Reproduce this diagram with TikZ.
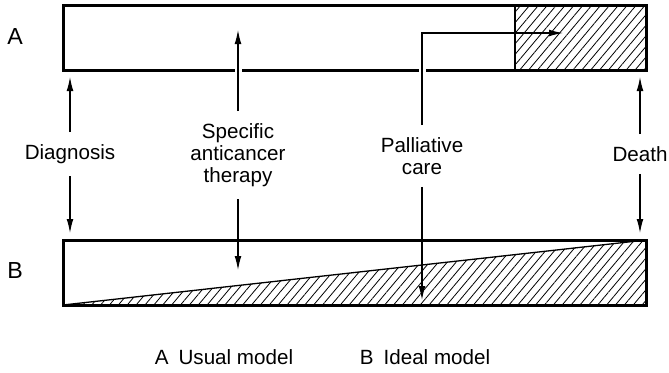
\documentclass[tikz,border=0pt]{standalone}
\usepackage{fontspec}
\setmainfont{Liberation Sans}
\usepackage{tikz}
\usetikzlibrary{arrows.meta,patterns.meta}
\definecolor{CareInk}{HTML}{000000}
\tikzset{
  figlabel/.style={font=\fontsize{10.3}{11}\selectfont, text=CareInk, align=center, inner sep=6pt},
  rowlabel/.style={figlabel, font=\fontsize{11.6}{12}\selectfont},
  modelbox/.style={draw=CareInk, line width=1.5pt},
  hatchfill/.style={pattern={Lines[angle=50, distance=3.4pt, line width=0.4pt]}, pattern color=CareInk},
  edgeline/.style={draw=CareInk, line width=0.65pt},
  figarrow/.style={-{Latex[length=7pt, width=3.4pt]}, line width=0.6pt, draw=CareInk},
  edgegap/.style={fill=white}
}
\begin{document}
\begin{tikzpicture}[x=0.5pt, y=-0.5pt, every node/.style={figlabel}]
\useasboundingbox (0,0) rectangle (669,372);
% model A
\fill[hatchfill] (515,5) rectangle (646,70);
\draw[edgeline] (515,5) -- (515,70);
\draw[modelbox] (63,5) rectangle (646,70);
% model B
\fill[hatchfill] (63,305) -- (646,240) -- (646,305) -- cycle;
\draw[edgeline] (63,305) -- (646,240);
\draw[modelbox] (63,240) rectangle (646,305);
% breaks in the lower edge of A
\fill[edgegap] (235,66) rectangle (241.5,74);
\fill[edgegap] (419,66) rectangle (425.5,74);
\node[rowlabel] (rowA) at (15,37) {A};
\node[rowlabel] (rowB) at (15,271) {B};
\node (diag) at (70,154) {Diagnosis};
\node (spec) at (238,155) {Specific\\anticancer\\therapy};
\node (pall) at (422,156) {Palliative\\care};
\node (death) at (640,154) {Death};
\coordinate (aBot) at (0,77);
\coordinate (aIn) at (0,30);
\coordinate (bTop) at (0,233);
\coordinate (bIn) at (0,270);
\coordinate (bLow) at (0,300);
\coordinate (pallEnd) at (563,33);
\draw[figarrow] (diag) -- (diag |- aBot);
\draw[figarrow] (diag) -- (diag |- bTop);
\draw[figarrow] (spec) -- (spec |- aIn);
\draw[figarrow] (spec) -- (spec |- bIn);
\draw[figarrow] (pall) |- (pallEnd);
\draw[figarrow] (pall) -- (pall |- bLow);
\draw[figarrow] (death) -- (death |- aBot);
\draw[figarrow] (death) -- (death |- bTop);
\node (usual) at (224,357) {A\hspace{5pt}Usual model};
\node (ideal) at (425,357) {B\hspace{5pt}Ideal model};
\end{tikzpicture}
\end{document}
